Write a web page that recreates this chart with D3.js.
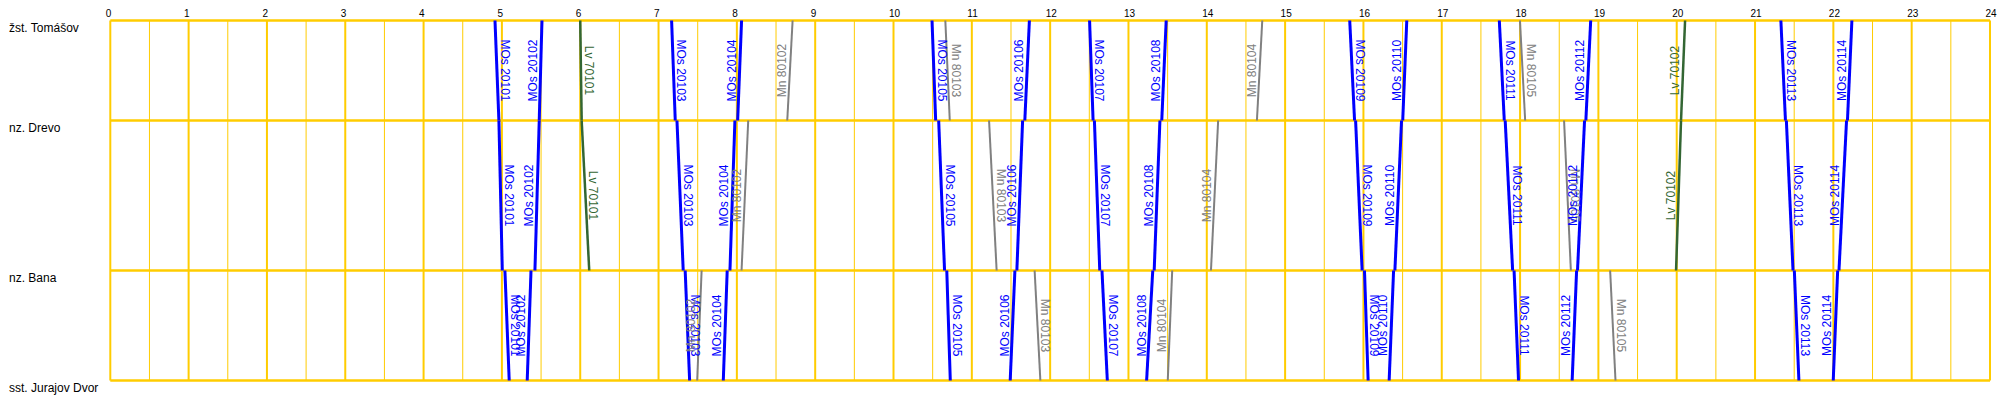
<!DOCTYPE html>
<html><head><meta charset="utf-8">
<script src="https://cdn.jsdelivr.net/npm/d3@7"></script>
<style>
body{margin:0;background:#fff}
svg{display:block}
text{font-family:"Liberation Sans",Arial,sans-serif}
</style>
</head><body>
<svg id="chart" width="2000" height="400"></svg>
<script>
// Stations (top to bottom) and their relative positions along the line
const stations = ["žst. Tomášov", "nz. Drevo", "nz. Bana", "sst. Jurajov Dvor"];
const stationKm = [0, 2.0, 5.0, 7.2];
// Hour tick labels
const hourLabels = ["0","1","2","3","4","5","6","7","8","9","10","11","12","13","14","15","16","17","18","19","20","21","22","23","24"];

// Trains: name, kind, stops [stationIndex, arrival(min), departure(min)]
const trainNames = ["MOs 20101","MOs 20102","Lv 70101","MOs 20103","Mn 80102","MOs 20104","MOs 20105","Mn 80103","MOs 20106","MOs 20107","MOs 20108","Mn 80104","MOs 20109","MOs 20110","MOs 20111","Mn 80105","MOs 20112","Lv 70102","MOs 20113","MOs 20114"];
const trainKinds = ["MOs","MOs","Lv","MOs","Mn","MOs","MOs","Mn","MOs","MOs","MOs","Mn","MOs","MOs","MOs","Mn","MOs","Lv","MOs","MOs"];
const trainStops = [
  [[0,null,294.7],[1,297.7,297.7],[2,300.3,302.3],[3,305.6,null]],
  [[3,null,319.4],[2,322.3,325.3],[1,328.6,328.6],[0,330.7,null]],
  [[0,null,360.0],[1,361.1,361.1],[2,366.9,null]],
  [[0,null,430.0],[1,432.8,434.1],[2,438.9,440.4],[3,443.8,null]],
  [[3,null,449.6],[2,453.0,483.6],[1,488.7,518.6],[0,522.7,null]],
  [[3,null,469.6],[2,472.6,474.7],[1,478.5,480.6],[0,483.6,null]],
  [[0,null,629.5],[1,632.3,634.6],[2,639.1,640.8],[3,643.5,null]],
  [[0,null,639.7],[1,643.1,673.2],[2,679.0,708.1],[3,712.5,null]],
  [[3,null,689.4],[2,693.0,694.5],[1,698.9,700.6],[0,704.1,null]],
  [[0,null,750.2],[1,752.9,753.9],[2,758.0,759.7],[3,763.8,null]],
  [[3,null,793.9],[2,798.6,799.7],[1,804.1,805.5],[0,808.9,null]],
  [[3,null,810.1],[2,813.5,843.2],[1,848.7,878.4],[0,882.5,null]],
  [[0,null,949.5],[1,953.2,954.0],[2,959.0,960.8],[3,963.6,null]],
  [[3,null,979.7],[2,983.1,984.1],[1,989.2,990.1],[0,993.2,null]],
  [[0,null,1064.1],[1,1067.9,1068.6],[2,1074.3,1075.4],[3,1078.8,null]],
  [[0,null,1079.9],[1,1083.9,1113.7],[2,1118.9,1149.0],[3,1153.1,null]],
  [[3,null,1119.9],[2,1123.3,1124.0],[1,1129.4,1130.4],[0,1134.1,null]],
  [[2,null,1199.5],[1,1203.3,1203.3],[0,1206.4,null]],
  [[0,null,1279.8],[1,1283.3,1284.0],[2,1289.1,1290.1],[3,1293.6,null]],
  [[3,null,1319.9],[2,1323.3,1324.3],[1,1330.1,1330.8],[0,1334.2,null]]
];

const kindColor = {MOs:"#0000ff", Lv:"#336633", Mn:"#808080"};
const kindWidth = {MOs:3, Lv:2.5, Mn:2};

const svg = d3.select("#chart");
const x = d3.scaleLinear().domain([0, 1440]).range([110.3, 1990]);
const y = d3.scaleLinear().domain([0, 7.2]).range([20.5, 380.5]);
const grid = "#ffcc00";

// vertical grid (half hours thin, hours thicker)
const ticks = d3.range(0, 1441, 30);
svg.append("g").selectAll("line").data(ticks).join("line")
  .attr("x1", d => x(d)).attr("x2", d => x(d))
  .attr("y1", y(0)).attr("y2", y(7.2))
  .attr("stroke", grid)
  .attr("stroke-width", d => d % 60 === 0 ? 2 : 1);

// station lines
svg.append("g").selectAll("line").data(stationKm).join("line")
  .attr("x1", x(0)).attr("x2", x(1440))
  .attr("y1", d => y(d)).attr("y2", d => y(d))
  .attr("stroke", grid).attr("stroke-width", 2.5);

// hour labels
svg.append("g").selectAll("text").data(hourLabels).join("text")
  .attr("x", (d, i) => x(i * 60) - 4.5).attr("y", 16.5)
  .attr("font-size", 10).attr("fill", "#000")
  .text(d => d);

// station labels
svg.append("g").selectAll("text").data(stations).join("text")
  .attr("x", 9).attr("y", (d, i) => y(stationKm[i]) + 11)
  .attr("font-size", 12).attr("fill", "#000")
  .text(d => d);

// trains: running sections
const segs = [];
trainStops.forEach((stops, ti) => {
  for (let k = 0; k < stops.length - 1; k++) {
    const a = stops[k], b = stops[k + 1];
    segs.push({name: trainNames[ti], kind: trainKinds[ti],
      t1: a[2], s1: a[0], t2: b[1], s2: b[0]});
  }
});
const gT = svg.append("g");
gT.selectAll("line").data(segs).join("line")
  .attr("x1", d => x(d.t1)).attr("y1", d => y(stationKm[d.s1]))
  .attr("x2", d => x(d.t2)).attr("y2", d => y(stationKm[d.s2]))
  .attr("stroke", d => kindColor[d.kind])
  .attr("stroke-width", d => kindWidth[d.kind]);

gT.selectAll("text").data(segs).join("text")
  .attr("transform", d => {
    const mx = (x(d.t1) + x(d.t2)) / 2;
    const my = (y(stationKm[d.s1]) + y(stationKm[d.s2])) / 2;
    const down = stationKm[d.s2] > stationKm[d.s1];
    return down ? `translate(${mx + 4},${my}) rotate(90)` : `translate(${mx - 4},${my}) rotate(-90)`;
  })
  .attr("text-anchor", "middle")
  .attr("font-size", 12)
  .attr("fill", d => kindColor[d.kind])
  .text(d => d.name);
</script>
</body></html>
